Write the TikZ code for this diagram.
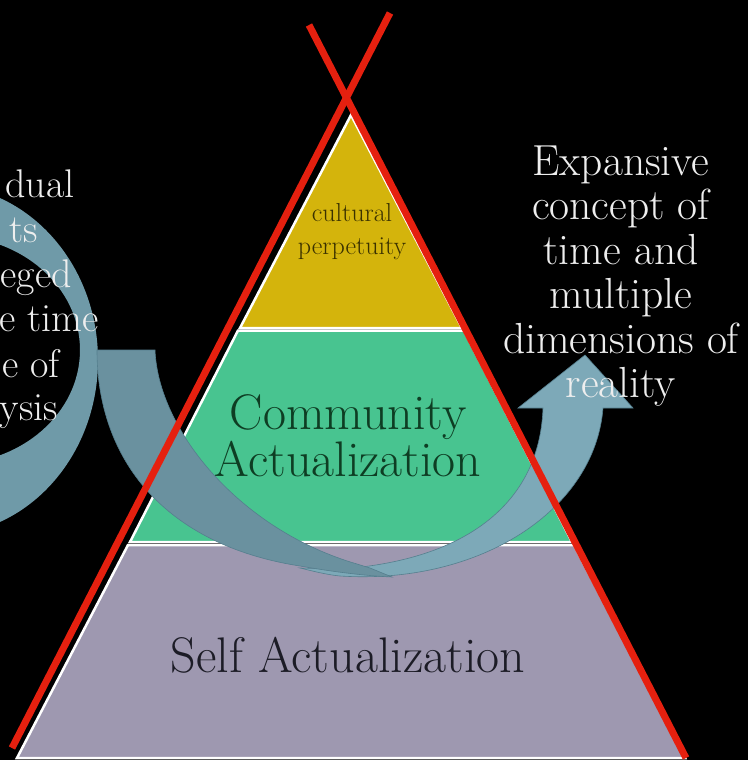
\documentclass[tikz,border=0pt]{standalone}
\usepackage{fontspec}
\usepackage{tikz}

\definecolor{cultGold}{HTML}{D4B40C}
\definecolor{commGreen}{HTML}{48C490}
\definecolor{selfPurple}{HTML}{9E98B0}
\definecolor{poleRed}{HTML}{E5200F}
\definecolor{ringBlue}{HTML}{6F9AA8}
\definecolor{bandDark}{HTML}{6A919F}
\definecolor{bandLight}{HTML}{7DA9B8}
\definecolor{bandEdge}{HTML}{557F8E}
\definecolor{textWhite}{HTML}{EEEEEE}
\definecolor{cultText}{HTML}{3B3200}
\definecolor{commText}{HTML}{0E3D23}
\definecolor{selfText}{HTML}{1C1C26}

\begin{document}
\begin{tikzpicture}[x=1pt,y=-1pt,
	layer/.style={draw=white,line width=2.5pt,line join=miter},
	pole/.style={draw=poleRed,line width=7pt},
	ribbon/.style={draw=bandEdge,line width=0.6pt},
	wtext/.style={text=textWhite,inner sep=0pt,font=\fontsize{43.5}{44.5}\selectfont}]
	\useasboundingbox (0,0) rectangle (748,760);
	\fill[black] (0,0) rectangle (748,760);
	\clip (0,0) rectangle (748,760);
	% the tipi
	\filldraw[layer,fill=selfPurple] (17,758) -- (128,545) -- (574,545) -- (685,758) -- cycle;
	\filldraw[layer,fill=commGreen] (130,542) -- (238,330.5) -- (464,330.5) -- (572,542) -- cycle;
	\filldraw[layer,fill=cultGold] (351,115) -- (240,328) -- (462,328) -- cycle;
	% loop on the left
	\fill[ringBlue,even odd rule] (-60,360) ellipse [x radius=158pt, y radius=175pt]
		(-50,350) ellipse [x radius=130pt, y radius=114pt];
	% twisted arrow
	\filldraw[ribbon,fill=bandLight] (300,568) .. controls (320,573) and (330,575) .. (340,576)
		.. controls (480,585) and (595,510) .. (603,408)
		-- (633,408) -- (585,355) -- (518,408) -- (543,408)
		.. controls (540,500) and (470,560) .. (340,569) -- cycle;
	\filldraw[ribbon,fill=bandDark] (97,350) .. controls (97,460) and (165,545) .. (300,566)
		.. controls (340,573) and (370,576) .. (392,577)
		-- (370,568) -- (357,564) .. controls (240,530) and (158,430) .. (155,350) -- cycle;
	% poles
	\draw[pole] (390,13) -- (12,748);
	\draw[pole] (309,25) -- (686,758);
	% labels
	\node[font=\fontsize{26}{33}\selectfont,text=cultText,align=center,inner sep=0pt] (cp) at (352,232) {cultural\\perpetuity};
	\node[font=\fontsize{50}{47}\selectfont,text=commText,align=center,inner sep=0pt] (ca) at (348,436) {Community\\Actualization};
	\node[font=\fontsize{50}{50}\selectfont,text=selfText,anchor=base,inner sep=0pt] (sa) at (348,672) {Self Actualization};
	\node[wtext,align=center] (exp) at (621,276) {Expansive\\concept of\\time and\\multiple\\dimensions of\\reality};
	\foreach \txt/\xx/\yy [count=\i] in {dual/75/197,ts/38/242,eged/72/287,e time/99/331,e of/60/377,ysis/58/420}
		\node[wtext,font=\fontsize{40}{44.5}\selectfont,anchor=base east] (left\i) at (\xx,\yy) {\txt};
\end{tikzpicture}
\end{document}
